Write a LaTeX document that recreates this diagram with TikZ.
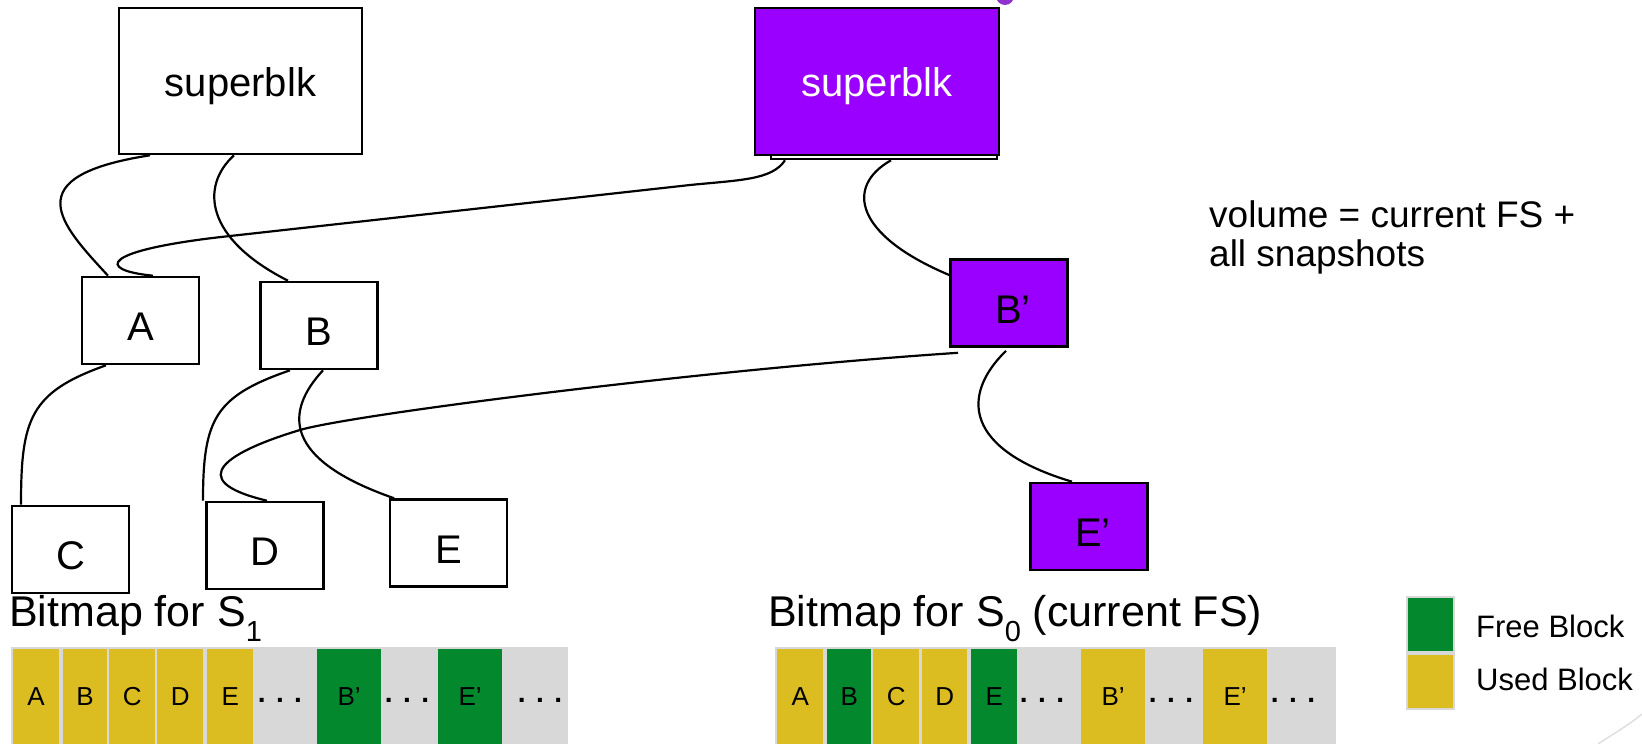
\documentclass[tikz,border=0pt]{standalone}
\usepackage{fontspec}
\setmainfont{Liberation Sans}

\definecolor{snappurple}{RGB}{153,0,255}
\definecolor{freegreen}{RGB}{3,136,46}
\definecolor{usedyellow}{RGB}{219,189,34}
\definecolor{bmgrey}{RGB}{216,216,216}

\newcommand{\blkfont}{\fontsize{40}{48}\selectfont}
\newcommand{\labelfont}{\fontsize{43}{50}\selectfont}
\newcommand{\cellfont}{\fontsize{26}{30}\selectfont}
\newcommand{\notefont}{\fontsize{37}{39}\selectfont}
\newcommand{\legfont}{\fontsize{31}{36}\selectfont}

\begin{document}
\begin{tikzpicture}[
        x=1pt, y=-1pt,
        blk/.style={draw, line width=2.6pt, fill=white, inner sep=0pt,
            font=\blkfont, text height=40pt, text depth=0pt,
            minimum width=117pt, minimum height=87pt},
        newblk/.style={blk, fill=snappurple},
        ptr/.style={line width=2.2pt},
        bitmap/.style={fill=bmgrey, anchor=north west, inner sep=0pt, minimum height=97pt},
        cell/.style={anchor=north west, inner sep=0pt, minimum height=95pt, font=\cellfont},
        dots/.style={inner sep=0pt, font=\fontsize{28}{30}\selectfont\bfseries},
        legbox/.style={draw=bmgrey, line width=2pt, anchor=north west, inner sep=0pt,
            minimum width=47pt, minimum height=55pt}
    ]
    \useasboundingbox (0,0) rectangle (1642,744);

    % snapshot S1 tree
    \node[blk, minimum width=243pt, minimum height=146pt, text height=30pt] (sblk) at (240.5,81) {superblk};
    \node[blk] (blkA) at (140.5,320.5) {A};
    \node[blk] (blkB) at (319,325.5) {B};
    \node[blk] (blkC) at (70.5,549.5) {C};
    \node[blk] (blkD) at (265,545.5) {D};
    \node[blk] (blkE) at (448.5,543) {E};

    % current FS tree
    \node[blk, minimum width=226pt, minimum height=147pt] (sblkback) at (884,85.5) {};
    \node[newblk, minimum width=244pt, minimum height=147pt, text height=30pt, text=white] (sblknew) at (877,81.5) {superblk};
    \node[newblk] (blkBp) at (1009,303) {\hspace{8pt}B’};
    \node[newblk] (blkEp) at (1089,526.5) {\hspace{8pt}E’};

    % pointers
    \draw[ptr] ([xshift=-90.5pt]sblk.south) .. controls +(-135,21) and +(-48,-52) .. ([xshift=-32.5pt]blkA.north);
    \draw[ptr] ([xshift=-6.5pt]sblk.south) .. controls +(-34,31) and +(-83,-42) .. ([xshift=-31pt]blkB.north);
    \draw[ptr] ([xshift=-99pt]sblkback.south) .. controls (772,180) and (740,180) .. (690,185)
        -- (230,236) .. controls (100,250) and (95,270) .. ([xshift=12.5pt]blkA.north);
    \draw[ptr] ([xshift=7pt]sblkback.south) .. controls +(-46,26) and +(-95,-40) .. ([yshift=28pt]blkBp.west);
    \draw[ptr] ([xshift=-34.5pt]blkA.south) .. controls +(-76,27) and +(0,-86) .. ([xshift=-49.5pt]blkC.north);
    \draw[ptr] ([xshift=-29pt]blkB.south) .. controls +(-75,26) and +(0,-82) .. ([xshift=-62pt]blkD.north);
    \draw[ptr] ([xshift=4pt]blkB.south) .. controls +(-38,41) and +(-112,-39) .. ([xshift=-54.5pt]blkE.north);
    \draw[ptr] ([xshift=-51pt,yshift=-5pt]blkBp.south) .. controls (700,370) and (350,415) .. (300,430)
        .. controls (230,451) and (180,480) .. ([xshift=2pt]blkD.north);
    \draw[ptr] ([xshift=-3pt,yshift=-3pt]blkBp.south) .. controls +(-46,45) and +(-107,-32) .. ([xshift=-17pt]blkEp.north);

    % note
    \node[anchor=north west, inner sep=0pt, align=left, font=\notefont] (volnote) at (1209,200)
        {volume = current FS +\\all snapshots};

    % bitmaps
    \node[anchor=base west, inner sep=0pt, font=\labelfont] (oldbmlabel) at (9,626)
        {Bitmap for S\raisebox{-15pt}{\fontsize{29}{29}\selectfont 1}};
    \node[anchor=base west, inner sep=0pt, font=\labelfont] (curbmlabel) at (768,626)
        {Bitmap for S\raisebox{-15pt}{\fontsize{29}{29}\selectfont 0} (current FS)};

    \node[bitmap, minimum width=557pt] (oldbitmap) at (11,647) {};
    \foreach \lbl/\x/\w/\col [count=\i] in {A/12.7/46.3/usedyellow, B/62.7/44.3/usedyellow,
            C/109/46/usedyellow, D/157/46/usedyellow, E/207/46/usedyellow,
            B’/317/64/freegreen, E’/438/64/freegreen}
        \node[cell, fill=\col, minimum width=\w pt] (oldcell\i) at (\x,649) {\lbl};
    \foreach \x [count=\i] in {280,407,540}
        \node[dots] (olddots\i) at (\x,700) {. . .};

    \node[bitmap, minimum width=561pt] (curbitmap) at (775,647) {};
    \foreach \lbl/\x/\w/\col [count=\i] in {A/777/46/usedyellow, B/827/44/freegreen,
            C/873/46/usedyellow, D/922/45/usedyellow, E/971/46/freegreen,
            B’/1081/64/usedyellow, E’/1203/64/usedyellow}
        \node[cell, fill=\col, minimum width=\w pt] (curcell\i) at (\x,649) {\lbl};
    \foreach \x [count=\i] in {1042,1171,1293}
        \node[dots] (curdots\i) at (\x,700) {. . .};

    % legend
    \node[legbox, fill=freegreen] (legfreebox) at (1406,596) {};
    \node[legbox, fill=usedyellow] (legusedbox) at (1406,653) {};
    \node[anchor=base west, inner sep=0pt, font=\legfont] (legfree) at (1476,637) {Free Block};
    \node[anchor=base west, inner sep=0pt, font=\legfont] (legused) at (1476,690) {Used Block};

    % slide leftovers
    \fill[snappurple!60!gray] (1005,-4) circle (9);
    \draw[gray!25, line width=1.5pt] (1598,744) .. controls (1615,733) and (1630,724) .. (1642,714);
\end{tikzpicture}
\end{document}
